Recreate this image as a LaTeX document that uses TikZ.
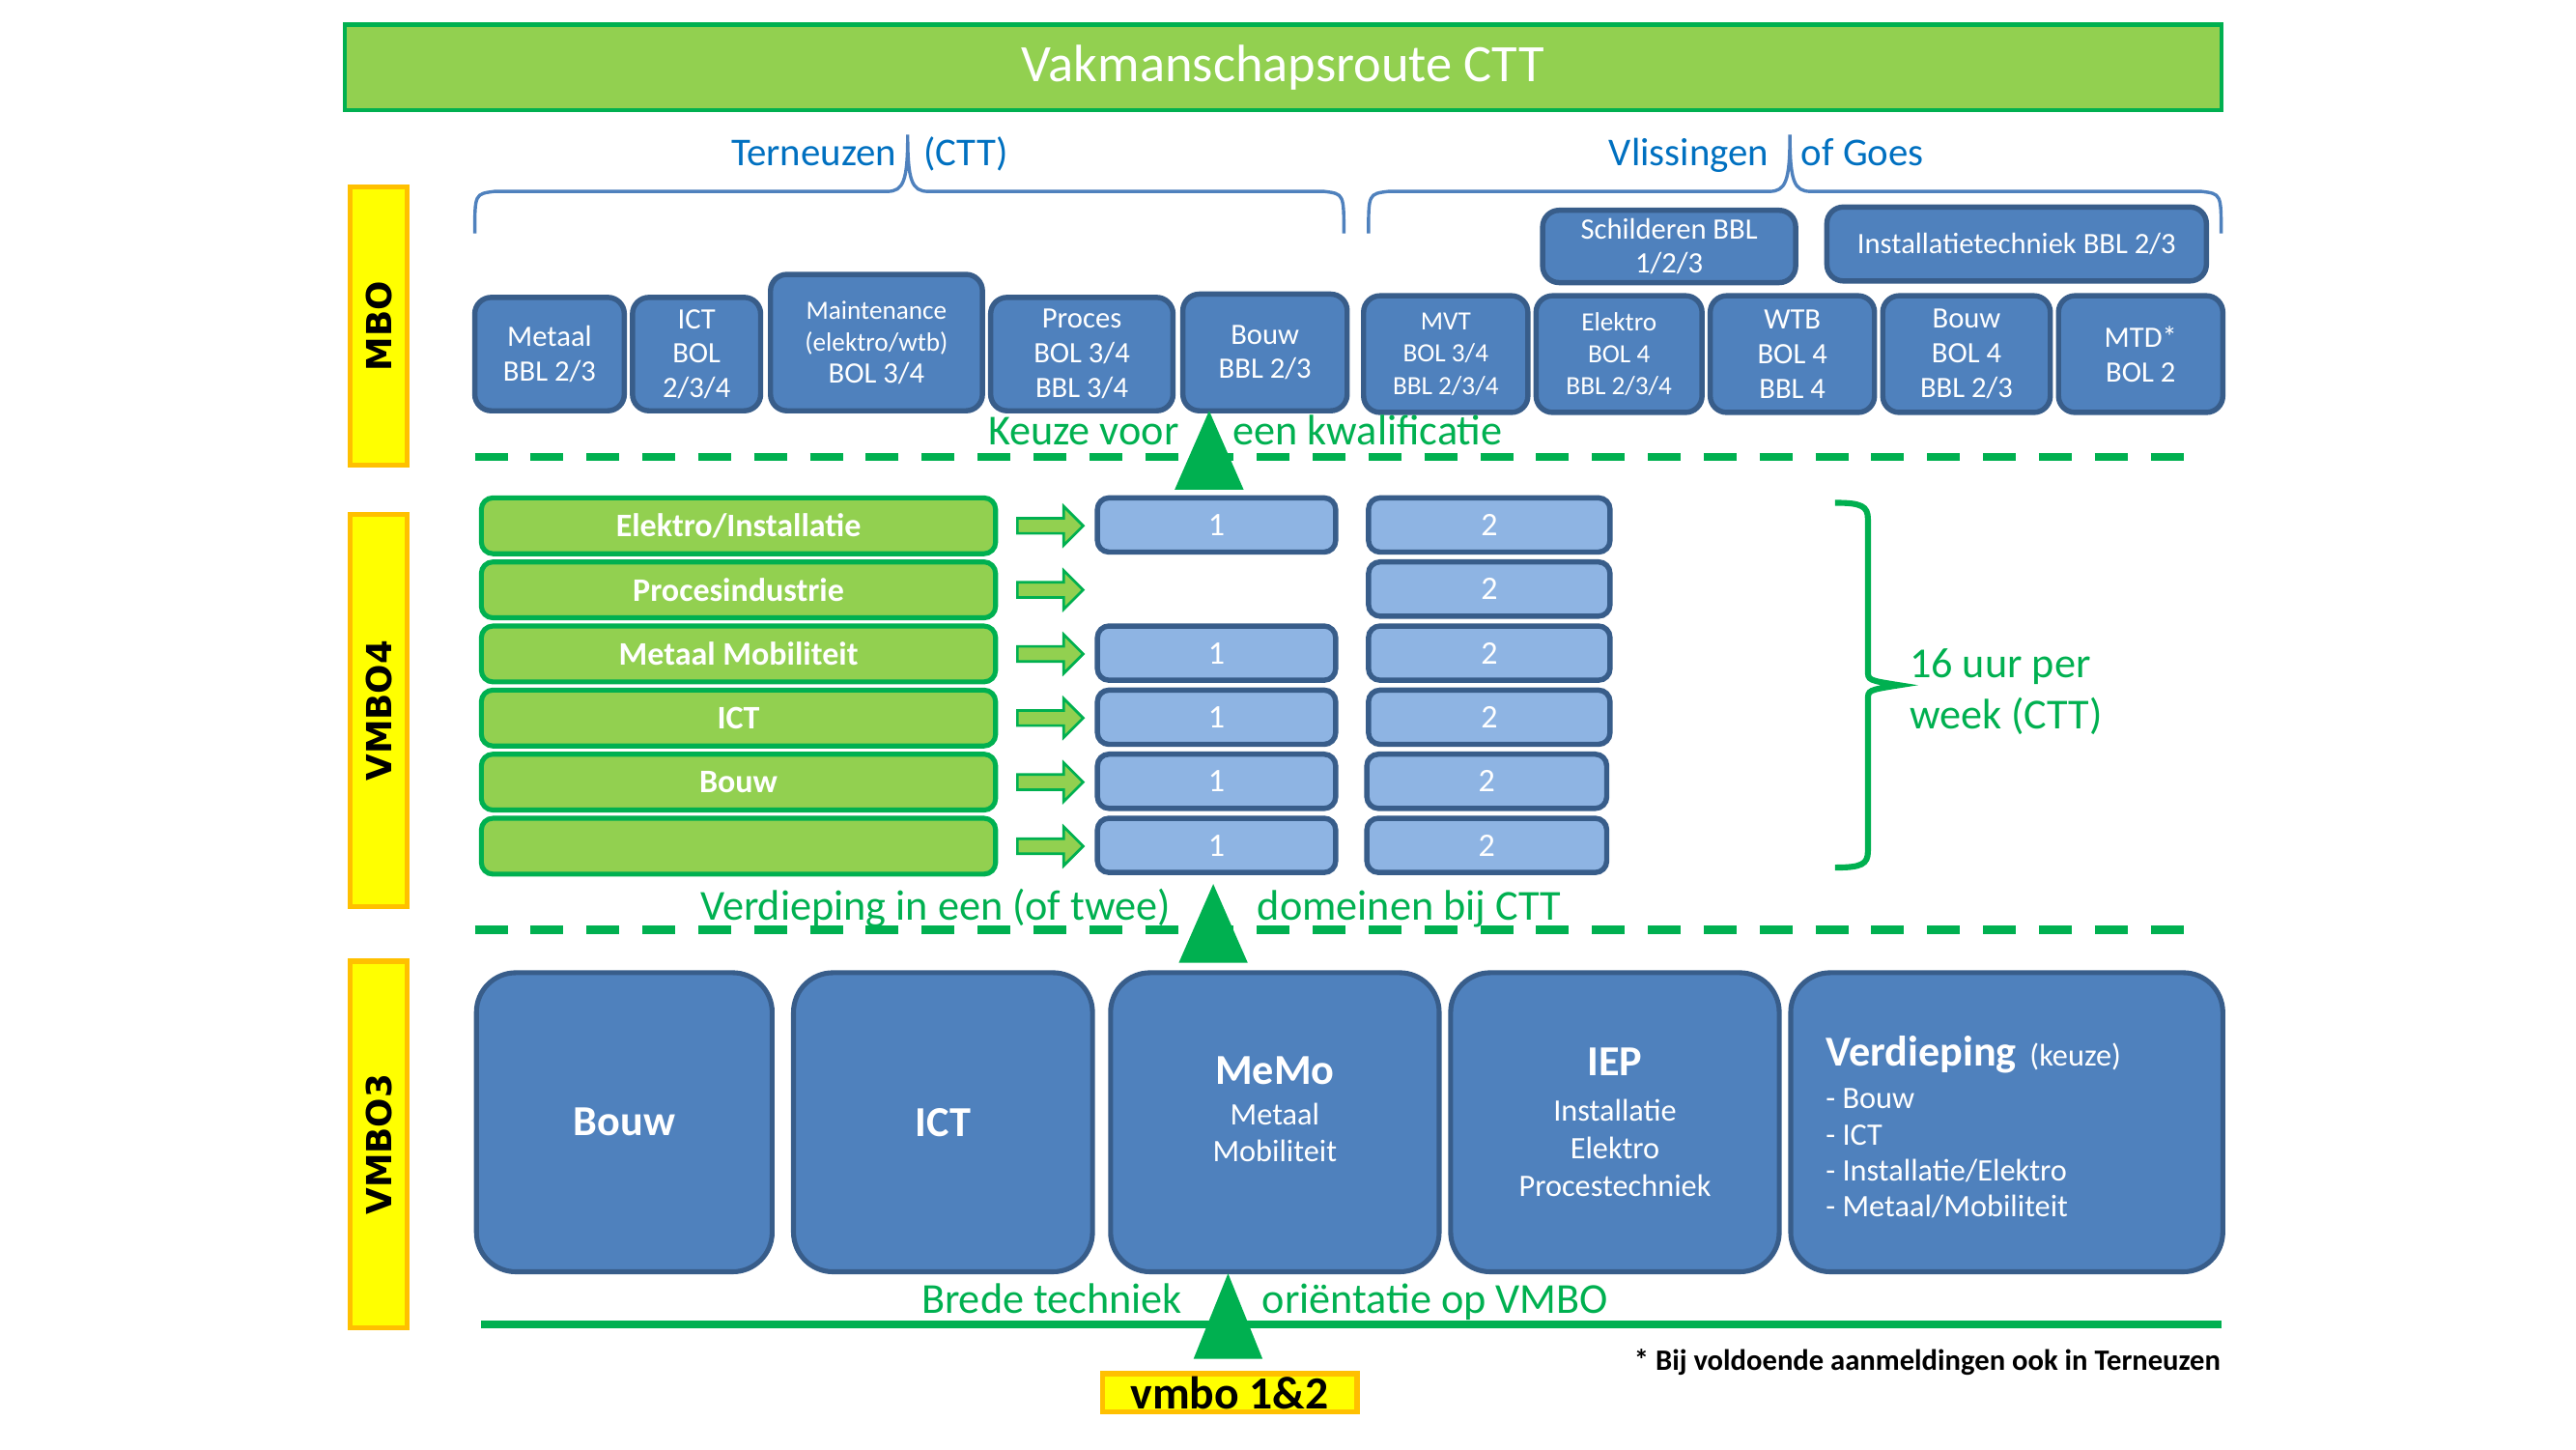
\documentclass[tikz,border=0pt]{standalone}
\usepackage{fontspec}
\usepackage{graphicx}
\setmainfont{Carlito}
\newfontfamily\labfont{DejaVu Sans}
\usetikzlibrary{shapes.arrows}
\definecolor{bfill}{HTML}{4F81BD}
\definecolor{bdraw}{HTML}{385D8A}
\definecolor{lbfill}{HTML}{8EB4E3}
\definecolor{gfill}{HTML}{92D050}
\definecolor{gdark}{HTML}{00B050}
\definecolor{tblue}{HTML}{0070C0}
\definecolor{yelfill}{HTML}{FFFF00}
\definecolor{orgdraw}{HTML}{FFC000}
\newcommand\fsz[2]{\fontsize{#1}{#2}\selectfont}
\newcommand\mkbox[7]{\node[#1, minimum width={(#5-#3)*0.5pt}, minimum height={(#6-#4)*0.5pt}] (#2) at ({(#3+#5)/2},{(#4+#6)/2}) {#7};}
\begin{document}
\begin{tikzpicture}[x=0.5pt,y=-0.5pt,
  titlebox/.style={draw=gdark, fill=gfill, line width=1.2pt, text=white, inner sep=0pt, font=\fsz{16}{19}},
  mbobox/.style={draw=bdraw, fill=bfill, line width=1.6pt, rounded corners=5pt, text=white, align=center, inner sep=0pt, font=\fsz{9}{10.5}},
  smallbox/.style={mbobox, font=\fsz{8}{9.8}},
  lbbox/.style={draw=bdraw, fill=lbfill, line width=1.6pt, rounded corners=3.5pt, text=white, inner sep=0pt, font=\fsz{10}{12}},
  grbox/.style={draw=gdark, fill=gfill, line width=1.5pt, rounded corners=3.5pt, text=white, inner sep=0pt, font=\bfseries\fsz{10}{12}},
  bigbox/.style={draw=bdraw, fill=bfill, line width=1.5pt, rounded corners=12pt, text=white, align=center, inner sep=0pt, font=\fsz{9.5}{11.5}},
  bigtxt/.style={text=white, inner sep=0pt, font=\fsz{9.5}{11}},
  lvlbox/.style={draw=orgdraw, fill=yelfill, line width=1.5pt, inner sep=0pt, text=black, font=\labfont\bfseries\fsz{10.5}{12}},
  gtxt/.style={text=gdark, inner sep=0pt, font=\fsz{13}{15.7}},
  btxt/.style={text=tblue, inner sep=0pt, font=\fsz{12}{14}},
  bracel/.style={draw=bfill, line width=1pt},
  gbrace/.style={draw=gdark, line width=1.8pt},
  dashln/.style={draw=gdark, line width=2.5pt, dash pattern=on 10pt off 7pt},
  tri/.style={fill=gdark},
  barrow/.style={single arrow, draw=gdark, fill=gfill, line width=0.8pt, minimum height=20pt, minimum width=0pt, inner xsep=0pt, inner ysep=1.9pt, single arrow head extend=3.6pt}
]
\useasboundingbox (0,0) rectangle (1568,882);

% title
\mkbox{titlebox}{title}{210}{15}{1352}{67}{\raisebox{-1pt}{Vakmanschapsroute CTT}}

% top braces and locations
\draw[bracel] (289,142) .. controls (289,118) .. (301,116.5) -- (540,116.5) .. controls (550,116.5) and (552.5,110) .. (552.5,82) .. controls (552.5,110) and (555,116.5) .. (565,116.5) -- (806,116.5) .. controls (818,118) .. (818,142);
\draw[bracel] (833,142) .. controls (833,118) .. (845,116.5) -- (1077,116.5) .. controls (1087,116.5) and (1089.5,110) .. (1089.5,82) .. controls (1089.5,110) and (1092,116.5) .. (1102,116.5) -- (1340,116.5) .. controls (1352,118) .. (1352,142);
\node[btxt, anchor=base east] (tern) at (546,101) {Terneuzen};
\node[btxt, anchor=base west] (ctt) at (562,101) {(CTT)};
\node[btxt, anchor=base east] (vlis) at (1077,101) {Vlissingen};
\node[btxt, anchor=base west] (goes) at (1096,101) {of Goes};

% level labels
\mkbox{lvlbox}{mbo}{213}{114}{248}{283}{\rotatebox{90}{MBO}}
\mkbox{lvlbox}{vmbofour}{213}{313}{248}{552}{\rotatebox{90}{VMBO4}}
\mkbox{lvlbox}{vmbothree}{213}{585}{248}{808}{\rotatebox{90}{VMBO3}}

% MBO boxes
\mkbox{mbobox}{schild}{939}{128}{1093}{172}{Schilderen BBL\\1/2/3}
\mkbox{mbobox}{instal}{1112}{126}{1343}{171}{Installatietechniek BBL 2/3}
\mkbox{mbobox}{metaal}{289}{181}{380}{250}{Metaal\\BBL 2/3}
\mkbox{mbobox}{ict}{385}{181}{463}{250}{ICT\\BOL\\2/3/4}
\mkbox{smallbox}{maint}{469}{167}{598}{250}{Maintenance\\(elektro/wtb)\\{\fsz{9}{10.5}BOL 3/4}}
\mkbox{mbobox}{proces}{603}{181}{714}{250}{Proces\\BOL 3/4\\BBL 3/4}
\mkbox{mbobox}{bouwa}{720}{179}{820}{250}{Bouw\\BBL 2/3}
\mkbox{smallbox}{mvt}{830}{180}{930}{251}{MVT\\BOL 3/4\\BBL 2/3/4}
\mkbox{smallbox}{elektro}{935}{180}{1036}{251}{Elektro\\BOL 4\\BBL 2/3/4}
\mkbox{mbobox}{wtb}{1041}{180}{1141}{251}{WTB\\BOL 4\\BBL 4}
\mkbox{mbobox}{bouwb}{1146}{180}{1248}{251}{Bouw\\BOL 4\\BBL 2/3}
\mkbox{mbobox}{mtd}{1253}{180}{1353}{251}{MTD*\\BOL 2}

% separator 1
\coordinate (d1a) at (289,278);
\coordinate (d1b) at (1340,278);
\draw[dashln] (d1a) -- (d1b);
\node[gtxt, anchor=base east] (keuze) at (718,271) {Keuze voor};
\node[gtxt, anchor=base west] (kwal) at (750,271) {een kwalificatie};
\coordinate (t1) at (736,298);
\fill[tri] ([xshift=-10.5pt]t1) -- ([yshift=24pt]t1) -- ([xshift=10.5pt]t1) -- cycle;

% VMBO4 rows
\mkbox{grbox}{ga}{293}{303}{606}{337}{Elektro/Installatie}
\mkbox{grbox}{gb}{293}{342}{606}{376}{Procesindustrie}
\mkbox{grbox}{gc}{293}{381}{606}{415}{Metaal Mobiliteit}
\mkbox{grbox}{gd}{293}{420}{606}{454}{ICT}
\mkbox{grbox}{ge}{293}{459}{606}{493}{Bouw}
\mkbox{grbox}{gf}{293}{498}{606}{532}{}

\node[barrow] (ara) at (637,320) {};
\node[barrow] (arb) at (637,359) {};
\node[barrow] (arc) at (637,398) {};
\node[barrow] (ard) at (637,437) {};
\node[barrow] (are) at (637,476) {};
\node[barrow] (arf) at (637,515) {};

\mkbox{lbbox}{oa}{668}{303}{813}{336}{1}
\mkbox{lbbox}{oc}{668}{381}{813}{414}{1}
\mkbox{lbbox}{od}{668}{420}{813}{453}{1}
\mkbox{lbbox}{oe}{668}{459}{813}{492}{1}
\mkbox{lbbox}{of}{668}{498}{813}{531}{1}

\mkbox{lbbox}{ta}{833}{303}{980}{336}{2}
\mkbox{lbbox}{tb}{833}{342}{980}{375}{2}
\mkbox{lbbox}{tc}{833}{381}{980}{414}{2}
\mkbox{lbbox}{td}{833}{420}{980}{453}{2}
\mkbox{lbbox}{te}{832}{459}{978}{492}{2}
\mkbox{lbbox}{tf}{832}{498}{978}{531}{2}

% green brace
\draw[gbrace] (1117,306) .. controls (1133,306) and (1137,308) .. (1137,316) -- (1137,408) .. controls (1137,414) .. (1156,417) .. controls (1137,420) .. (1137,426) -- (1137,518) .. controls (1137,526) and (1133,528) .. (1117,528);
\node[gtxt, align=left, anchor=west] (uur) at (1162,421) {16 uur per\\week (CTT)};

% separator 2
\coordinate (d2a) at (289,566);
\coordinate (d2b) at (1340,566);
\draw[dashln] (d2a) -- (d2b);
\node[gtxt, anchor=base east] (verd) at (713,560) {Verdieping in een (of twee)};
\node[gtxt, anchor=base west] (dom) at (765,560) {domeinen bij CTT};
\coordinate (t2) at (738.5,586);
\fill[tri] ([xshift=-10.5pt]t2) -- ([yshift=24pt]t2) -- ([xshift=10.5pt]t2) -- cycle;

% VMBO3 big boxes
\mkbox{bigbox}{bbouw}{290}{592}{470}{774}{\bfseries\fsz{13}{15}Bouw}
\mkbox{bigbox}{bict}{483}{592}{665}{774}{\bfseries\fsz{13}{15}ICT}
\mkbox{bigbox}{bmemo}{676}{592}{876}{774}{}
\node[bigtxt, align=center] (memot) at (776,675) {{\bfseries\fsz{13}{15}MeMo}\\[1.5pt]Metaal\\Mobiliteit};
\mkbox{bigbox}{biep}{883}{592}{1083}{774}{{\bfseries\fsz{13}{15}IEP}\\[2.5pt]Installatie\\Elektro\\Procestechniek}
\mkbox{bigbox}{bverd}{1090}{592}{1353}{774}{}
\node[bigtxt, align=left, anchor=west] (verdt) at (1111,686) {{\bfseries\fsz{13}{15}Verdieping}\hspace{4pt}(keuze)\\[2pt]- Bouw\\- ICT\\- Installatie/Elektro\\- Metaal/Mobiliteit};

% bottom line
\coordinate (la) at (293,806);
\coordinate (lb) at (1352,806);
\draw[gdark, line width=2.5pt] (la) -- (lb);
\node[gtxt, anchor=base east] (brede) at (720,799) {Brede techniek};
\node[gtxt, anchor=base west] (orient) at (768,799) {oriëntatie op VMBO};
\coordinate (t3) at (747.5,827);
\fill[tri] ([xshift=-10.5pt]t3) -- ([yshift=26pt]t3) -- ([xshift=10.5pt]t3) -- cycle;

\mkbox{lvlbox}{vmbo12}{671}{836}{826}{859}{\normalfont\bfseries\fsz{14}{16}vmbo 1\&2}
\node[anchor=base east, inner sep=0pt, font=\bfseries\fsz{9}{11}] (note) at (1352,834) {* Bij voldoende aanmeldingen ook in Terneuzen};
\end{tikzpicture}
\end{document}
